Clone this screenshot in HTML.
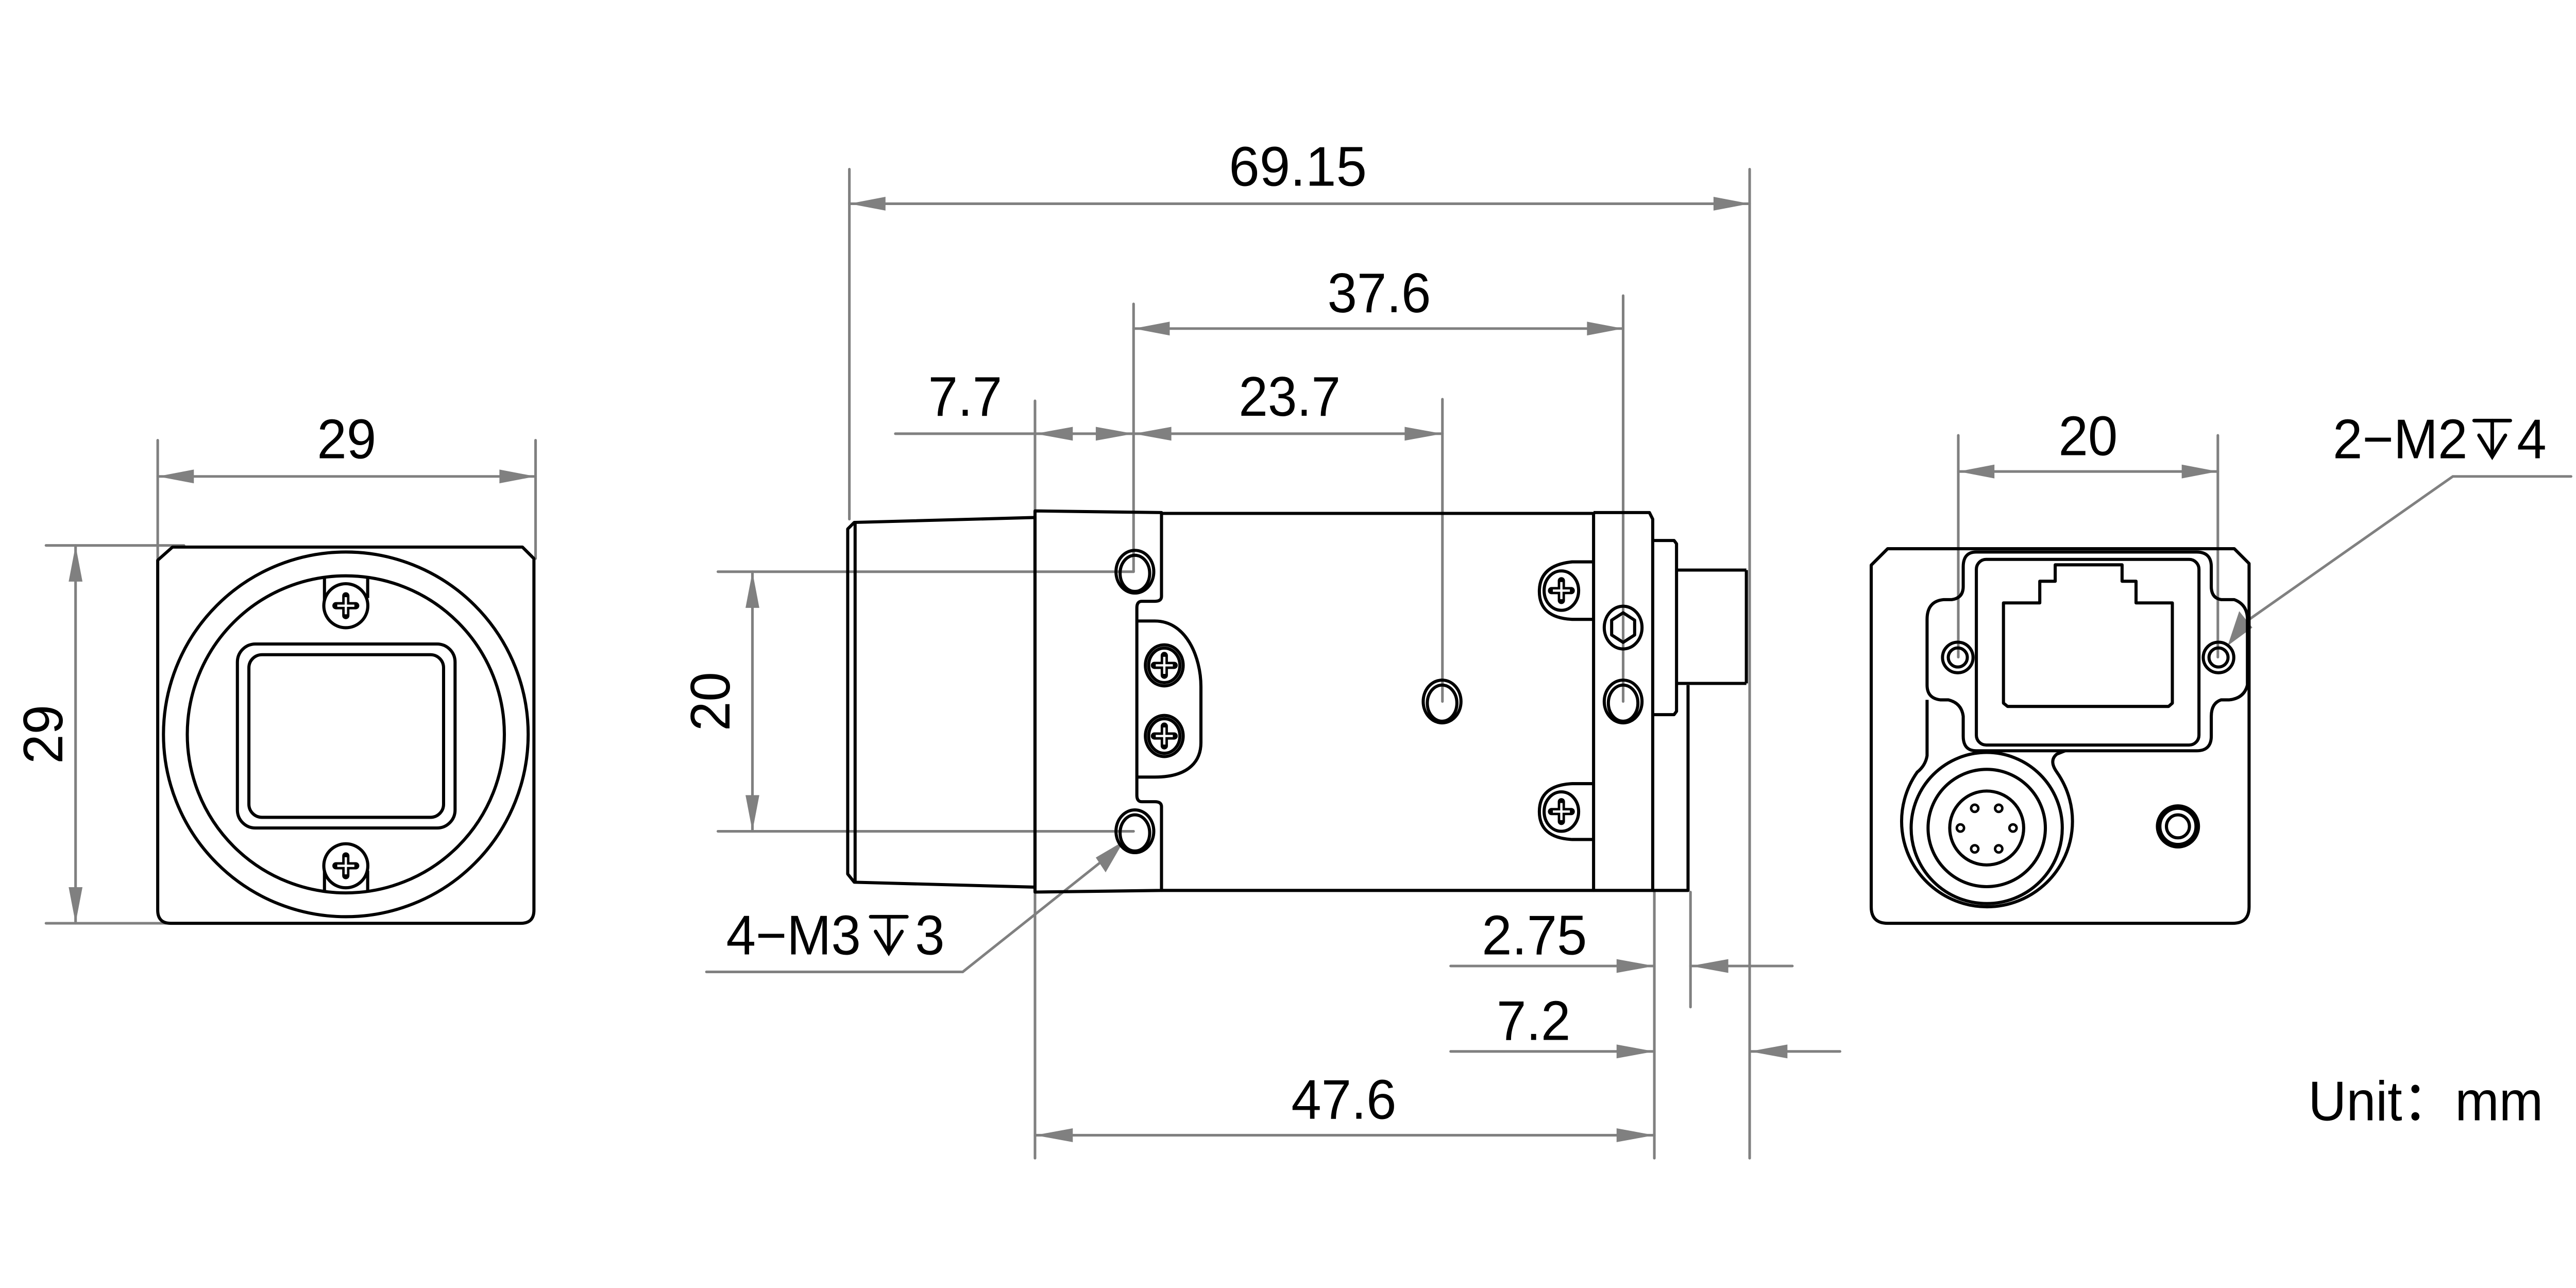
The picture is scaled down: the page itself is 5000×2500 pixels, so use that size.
<!DOCTYPE html>
<html><head><meta charset="utf-8"><style>
html,body{margin:0;padding:0;background:#fff;}
svg{display:block;}
text{font-family:"Liberation Sans",sans-serif;fill:#000;}
</style></head><body>
<svg width="5000" height="2500" viewBox="0 0 1568 784" xmlns="http://www.w3.org/2000/svg">
<defs>
<g id="xr"><line x1="-6" y1="0" x2="6" y2="0" stroke="#000" stroke-width="4.4" stroke-linecap="round"/><line x1="0" y1="-6" x2="0" y2="6" stroke="#000" stroke-width="4.4" stroke-linecap="round"/><line x1="-5.2" y1="0" x2="5.2" y2="0" stroke="#fff" stroke-width="1.4"/><line x1="0" y1="-5.2" x2="0" y2="5.2" stroke="#fff" stroke-width="1.4"/></g>
</defs>
<rect width="1568" height="784" fill="#fff"/>

<g stroke="#808080" stroke-width="1.6" fill="none" stroke-linecap="round">
 <line x1="96" y1="268" x2="96" y2="340"/><line x1="326" y1="268" x2="326" y2="340"/>
 <line x1="96" y1="290" x2="326" y2="290"/>
 <line x1="28" y1="332" x2="112" y2="332"/><line x1="28" y1="562" x2="112" y2="562"/>
 <line x1="46" y1="332" x2="46" y2="562"/>
 <line x1="517" y1="103" x2="517" y2="316"/><line x1="1065" y1="103" x2="1065" y2="705"/>
 <line x1="517" y1="124" x2="1065" y2="124"/>
 <line x1="690" y1="185" x2="690" y2="348"/><line x1="988" y1="180" x2="988" y2="427"/>
 <line x1="690" y1="200" x2="988" y2="200"/>
 <line x1="630" y1="244" x2="630" y2="316"/><line x1="630" y1="543" x2="630" y2="705"/>
 <line x1="878" y1="243" x2="878" y2="427"/>
 <line x1="545" y1="264" x2="878" y2="264"/>
 <line x1="437" y1="348" x2="690" y2="348"/><line x1="437" y1="506" x2="690" y2="506"/>
 <line x1="458" y1="348" x2="458" y2="506"/>
 <polyline points="430,591.6 586,591.6 676,520"/>
 <line x1="1007" y1="543" x2="1007" y2="705"/><line x1="1029" y1="543" x2="1029" y2="613"/>
 <line x1="883" y1="588" x2="1007" y2="588"/><line x1="1029" y1="588" x2="1091" y2="588"/>
 <line x1="883" y1="640" x2="1007" y2="640"/><line x1="1065" y1="640" x2="1120" y2="640"/>
 <line x1="630" y1="691" x2="1007" y2="691"/>
 <line x1="1192" y1="265" x2="1192" y2="400"/><line x1="1350" y1="265" x2="1350" y2="400"/>
 <line x1="1192" y1="287" x2="1350" y2="287"/>
 <polyline points="1565,290 1493,290 1362,382"/>
</g>
<g fill="#808080">
 <polygon points="96,290 118,285.8 118,294.2"/><polygon points="326,290 304,285.8 304,294.2"/>
 <polygon points="46,332 41.8,354 50.2,354"/><polygon points="46,562 41.8,540 50.2,540"/>
 <polygon points="517,124 539,119.8 539,128.2"/><polygon points="1065,124 1043,119.8 1043,128.2"/>
 <polygon points="690,200 712,195.8 712,204.2"/><polygon points="988,200 966,195.8 966,204.2"/>
 <polygon points="630,264 653,259.8 653,268.2"/><polygon points="690,264 667,259.8 667,268.2"/>
 <polygon points="690,264 713,259.8 713,268.2"/><polygon points="878,264 855,259.8 855,268.2"/>
 <polygon points="458,348 453.8,370 462.2,370"/><polygon points="458,506 453.8,484 462.2,484"/>
 <polygon points="684,512 667,522 673,531"/>
 <polygon points="1007,588 984,583.8 984,592.2"/><polygon points="1029,588 1052,583.8 1052,592.2"/>
 <polygon points="1007,640 984,635.8 984,644.2"/><polygon points="1065,640 1088,635.8 1088,644.2"/>
 <polygon points="630,691 653,686.8 653,695.2"/><polygon points="1007,691 984,686.8 984,695.2"/>
 <polygon points="1192,287 1214,282.8 1214,291.2"/><polygon points="1350,287 1328,282.8 1328,291.2"/>
 <polygon points="1356,393 1363,372 1371,382"/>
</g>

<g font-size="34">
 <text x="193" y="279" textLength="36" lengthAdjust="spacingAndGlyphs">29</text>
 <text transform="translate(38,447) rotate(-90)" x="-18" y="0" textLength="36" lengthAdjust="spacingAndGlyphs">29</text>
 <text x="748" y="113" textLength="84" lengthAdjust="spacingAndGlyphs">69.15</text>
 <text x="808" y="190" textLength="63" lengthAdjust="spacingAndGlyphs">37.6</text>
 <text x="565" y="253" textLength="45" lengthAdjust="spacingAndGlyphs">7.7</text>
 <text x="754" y="253" textLength="62" lengthAdjust="spacingAndGlyphs">23.7</text>
 <text transform="translate(444,427) rotate(-90)" x="-18" y="0" textLength="36" lengthAdjust="spacingAndGlyphs">20</text>
 <text x="442" y="581" textLength="82" lengthAdjust="spacingAndGlyphs">4−M3</text>
 <text x="557" y="581" textLength="18" lengthAdjust="spacingAndGlyphs">3</text>
 <text x="902" y="581" textLength="64" lengthAdjust="spacingAndGlyphs">2.75</text>
 <text x="911" y="633" textLength="45" lengthAdjust="spacingAndGlyphs">7.2</text>
 <text x="786" y="681" textLength="64" lengthAdjust="spacingAndGlyphs">47.6</text>
 <text x="1253" y="277" textLength="36" lengthAdjust="spacingAndGlyphs">20</text>
 <text x="1420" y="279" textLength="82" lengthAdjust="spacingAndGlyphs">2−M2</text>
 <text x="1532" y="279" textLength="18" lengthAdjust="spacingAndGlyphs">4</text>
 <text x="1405" y="682" textLength="143" lengthAdjust="spacingAndGlyphs">Unit：mm</text>
</g>
<g stroke="#000" stroke-width="2.2" fill="none" stroke-linecap="round">
 <line x1="530" y1="558" x2="552" y2="558"/><line x1="541" y1="558" x2="541" y2="580"/><polyline points="533,567 541,580 549,567"/>
 <line x1="1506" y1="256" x2="1528" y2="256"/><line x1="1517" y1="256" x2="1517" y2="278"/><polyline points="1509,265 1517,278 1525,265"/>
</g>

<g stroke="#000" stroke-width="1.9" fill="none" stroke-linejoin="round">
 <path d="M105,333 L318,333 L325,340 L325,554 Q325,562 317,562 L104,562 Q96,562 96,554 L96,341 Z"/>
 <circle cx="210.5" cy="447" r="111"/>
 <circle cx="210.5" cy="447" r="96.5"/>
 <rect x="144.5" y="392" width="132.5" height="112" rx="11"/>
 <rect x="151.5" y="398.5" width="118.5" height="99" rx="8"/>
 <path d="M197.5,351 L197.5,366 M223.8,351 L223.8,364"/>
 <circle cx="210.5" cy="368.7" r="13.4" fill="#fff"/>
 <path d="M197.5,543 L197.5,529 M223.8,543 L223.8,530"/>
 <circle cx="210.5" cy="527" r="13.4" fill="#fff"/>

 <path d="M520,318 L630,315 L630,540 L520,537 L516,532 L516,322 Z"/>
 <line x1="520.5" y1="318" x2="520.5" y2="537"/>
 <path d="M630,311 L707,312 L707,363 Q707,366 703,366 L695,366 Q692,366 692,370 L692,484 Q692,488 695,488 L703,488 Q707,488 707,491 L707,542 L630,543 Z"/>
 <path d="M692,378 L703,378 C722,378 731,400 731,418 L731,452 C731,462 725,473 703,473 L692,473"/>
 <path d="M707,312.5 L970,312.5 L970,542 L707,542"/>
 <path d="M970,312 L1004,312 L1006,316 L1006,542 L970,542"/>
 <path d="M1006,329 L1019,329 L1020.5,331 L1020.5,433 L1019,435 L1006,435"/>
 <path d="M1020.5,347 L1063,347 M1020.5,416 L1063,416 M1063,347 L1063,416"/>
 <path d="M1027.5,417 L1027.5,542 L1006,542"/>
 <ellipse cx="690.8" cy="348" rx="11.5" ry="13"/><ellipse cx="690.8" cy="349" rx="9" ry="11"/>
 <ellipse cx="690.8" cy="506" rx="11.5" ry="13"/><ellipse cx="690.8" cy="507" rx="9" ry="11"/>
 <ellipse cx="877.8" cy="427" rx="11.5" ry="13"/><ellipse cx="877.8" cy="428" rx="9" ry="11"/>
 <ellipse cx="988" cy="427" rx="11.5" ry="13"/><ellipse cx="988" cy="428" rx="9" ry="11"/>
 <ellipse cx="988" cy="382" rx="11.5" ry="13"/>
 <polygon points="988,373 995,377.5 995,386.5 988,391 981,386.5 981,377.5"/>
 <ellipse cx="708.7" cy="405" rx="11.5" ry="12.5"/><ellipse cx="708.7" cy="405" rx="9.5" ry="10.5"/>
 <ellipse cx="708.7" cy="448" rx="11.5" ry="12.5"/><ellipse cx="708.7" cy="448" rx="9.5" ry="10.5"/>
 <path d="M970,342 L957,342 Q937,344 937,360 Q937,376 957,377 L970,377"/>
 <ellipse cx="950.4" cy="359.5" rx="10.5" ry="12"/>
 <path d="M970,477 L957,477 Q937,478 937,494 Q937,510 957,511 L970,511"/>
 <ellipse cx="950.4" cy="494" rx="10.5" ry="12"/>

 <path d="M1149,334 L1360,334 L1369,343 L1369,552 Q1369,562 1359,562 L1149,562 Q1139,562 1139,552 L1139,344 Z"/>
 <path d="M1203,336 L1337,336 Q1346,336 1346,345 L1346,357 Q1346,364 1352,365 L1360,365 Q1368,368 1368,377 L1368,417 Q1366,425 1357,426 L1352,426 Q1346,428 1346,436 L1346,448 Q1346,457 1337,457 L1203,457 Q1195,457 1195,448 L1195,436 Q1194,428 1186,426 L1181,426 Q1173,425 1173,417 L1173,377 Q1173,366 1183,365 L1188,365 Q1195,364 1195,357 L1195,345 Q1195,336 1203,336 Z"/>
 <rect x="1203" y="340.5" width="135.5" height="113" rx="6"/>
 <path d="M1219.5,367 L1241.6,367 L1241.6,353.8 L1251,353.8 L1251,343.8 L1291.7,343.8 L1291.7,353.8 L1300.2,353.8 L1300.2,367 L1322.3,367 L1322.3,428 L1320,430 L1222,430 L1219.5,428 Z"/>
 <circle cx="1191.7" cy="400.2" r="9.3"/><circle cx="1191.7" cy="400.2" r="5.8"/>
 <circle cx="1350.4" cy="400.2" r="9.3"/><circle cx="1350.4" cy="400.2" r="5.8"/>
 <path d="M1173,426 L1173,460 Q1172,466 1167,470 A52,52 0 1 0 1252,470 Q1247,463 1252,459 L1257,457"/>
 <circle cx="1209.3" cy="504" r="46"/>
 <circle cx="1209.3" cy="504" r="35.7"/>
 <circle cx="1209.3" cy="504" r="22.5"/>
 <g stroke-width="1.5">
  <circle cx="1202" cy="492" r="2.2"/><circle cx="1216.6" cy="492" r="2.2"/>
  <circle cx="1193.3" cy="504" r="2.2"/><circle cx="1225.3" cy="504" r="2.2"/>
  <circle cx="1202" cy="516.7" r="2.2"/><circle cx="1216.6" cy="516.7" r="2.2"/>
 </g>
 <circle cx="1325.7" cy="503" r="12.5"/><circle cx="1325.7" cy="503" r="11"/><circle cx="1325.7" cy="503" r="7"/>
</g>

<use href="#xr" x="210.5" y="368.7"/>
<use href="#xr" x="210.5" y="527"/>
<use href="#xr" x="708.7" y="405"/>
<use href="#xr" x="708.7" y="448"/>
<use href="#xr" x="950.4" y="359.5"/>
<use href="#xr" x="950.4" y="494"/>
</svg>
</body></html>
